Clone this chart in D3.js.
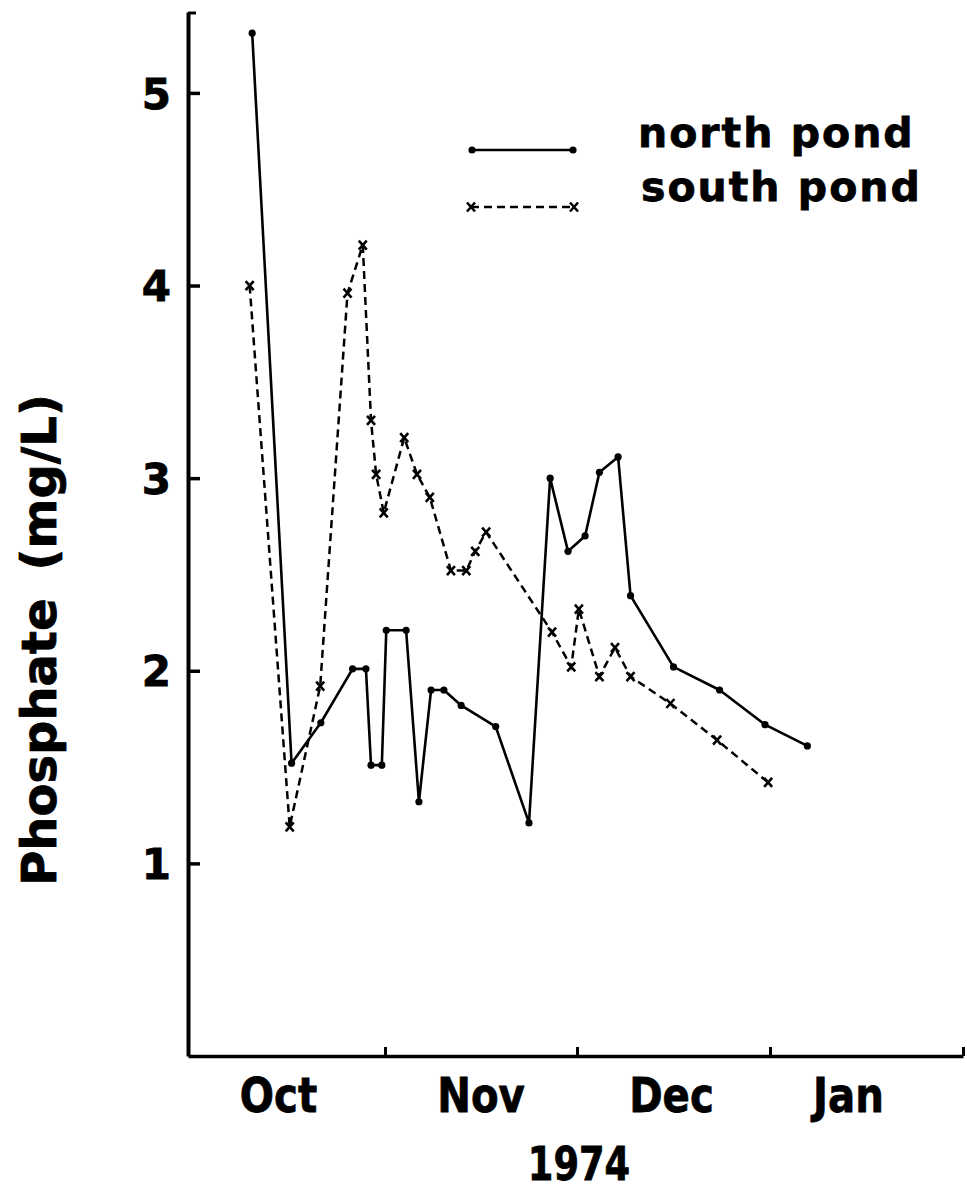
<!DOCTYPE html>
<html>
<head>
<meta charset="utf-8">
<script src="https://cdn.jsdelivr.net/npm/d3@7"></script>
<style>
  html, body { margin: 0; padding: 0; background: #fff; }
  svg { display: block; }
  text { font-family: "DejaVu Sans", "Liberation Sans", sans-serif; font-weight: bold; fill: #000; stroke: #000; stroke-width: 0.8; }
</style>
</head>
<body>
<svg id="chart" width="967" height="1193"></svg>
<script>
// Phosphate in the two ponds, autumn 1974.
// Sampling dates are given as days after 1 October 1974.
const monthNames = ["Oct", "Nov", "Dec", "Jan"];
const monthStartDays = [0, 31, 61, 92, 123];
const yTickValues = [1, 2, 3, 4, 5];
const yearLabel = "1974";
const yAxisTitle = ["Phosphate", "(mg/L)"];
const seriesNames = ["north pond", "south pond"];

const northDay = [10.1, 16.3, 20.9, 25.9, 28.0, 28.8, 30.5, 31.2, 34.3, 36.3, 38.2, 40.2, 42.9,
                  48.3, 53.5, 56.8, 59.6, 62.3, 64.6, 67.6, 69.6, 76.5, 83.9, 91.2, 98.0];
const northPhosphate = [5.31, 1.52, 1.73, 2.01, 2.01, 1.51, 1.51, 2.21, 2.21, 1.32, 1.90, 1.90, 1.82,
                        1.71, 1.21, 3.00, 2.62, 2.70, 3.03, 3.11, 2.39, 2.02, 1.90, 1.72, 1.61];

const southDay = [9.7, 16.0, 20.8, 25.1, 27.5, 28.8, 29.6, 30.8, 34.0, 36.0, 38.0, 41.3, 43.7,
                  45.1, 46.8, 57.1, 60.1, 61.3, 64.6, 67.1, 69.6, 76.0, 83.5, 91.7];
const southPhosphate = [4.00, 1.19, 1.92, 3.96, 4.21, 3.30, 3.02, 2.82, 3.21, 3.02, 2.90, 2.52, 2.52,
                        2.62, 2.72, 2.20, 2.02, 2.32, 1.97, 2.12, 1.97, 1.83, 1.64, 1.42];

const svg = d3.select("#chart");

// Equal-width months along the time axis
const x = d3.scaleLinear()
  .domain(monthStartDays)
  .range([188, 385, 577, 770, 963]);

const y = d3.scaleLinear()
  .domain([0, 5.42])
  .range([1056, 12]);

const north = northDay.map((d, i) => ({ day: d, v: northPhosphate[i] }));
const south = southDay.map((d, i) => ({ day: d, v: southPhosphate[i] }));

// ---- axes ----
const yAxis = d3.axisLeft(y)
  .tickValues(yTickValues)
  .tickFormat(d3.format("d"))
  .tickSizeInner(-12)
  .tickSizeOuter(0)
  .tickPadding(17);

const gy = svg.append("g")
  .attr("transform", `translate(${x(0)},0)`)
  .call(yAxis);
gy.select(".domain").attr("stroke", "#000").attr("stroke-width", 4);
gy.selectAll(".tick line").attr("stroke", "#000").attr("stroke-width", 3.5);
gy.selectAll(".tick text")
  .attr("font-size", 42)
  .attr("font-family", "DejaVu Sans")
  .attr("font-weight", "bold")
  .attr("dy", "0.36em");

// small hook at the top of the value axis
svg.append("line")
  .attr("x1", x(0)).attr("x2", x(0) + 8)
  .attr("y1", y(5.42) + 1).attr("y2", y(5.42) + 1)
  .attr("stroke", "#000").attr("stroke-width", 3);

const xAxis = d3.axisBottom(x)
  .tickValues(monthStartDays.slice(1))
  .tickFormat("")
  .tickSizeInner(-9)
  .tickSizeOuter(0);

const gx = svg.append("g")
  .attr("transform", `translate(0,${y(0)})`)
  .call(xAxis);
gx.select(".domain").attr("stroke", "#000").attr("stroke-width", 3.5);
gx.selectAll(".tick line").attr("stroke", "#000").attr("stroke-width", 3);

// month names between the month boundaries
const monthShift = [-8, 0, -2, -18];
svg.append("g").selectAll("text")
  .data(monthNames)
  .join("text")
  .attr("transform", (m, i) => {
    const cx = (x(monthStartDays[i]) + x(monthStartDays[i + 1])) / 2 + monthShift[i];
    return `translate(${cx},1112) scale(0.84,1)`;
  })
  .attr("text-anchor", "middle")
  .attr("font-size", 48)
  .text(m => m);

svg.append("text")
  .attr("transform", "translate(579,1180) scale(0.8,1)")
  .attr("text-anchor", "middle")
  .attr("font-size", 46)
  .text(yearLabel);

// y axis title
const title = svg.append("text")
  .attr("transform", "translate(56,640) rotate(-90)")
  .attr("text-anchor", "middle")
  .attr("font-size", 48);
title.append("tspan").text(yAxisTitle[0]);
title.append("tspan").attr("dx", 28).text(yAxisTitle[1]);

// ---- series ----
const line = d3.line().x(d => x(d.day)).y(d => y(d.v));

svg.append("path")
  .datum(north)
  .attr("d", line)
  .attr("fill", "none")
  .attr("stroke", "#000")
  .attr("stroke-width", 2.6)
  .attr("stroke-linejoin", "round");

svg.append("g").selectAll("circle")
  .data(north)
  .join("circle")
  .attr("cx", d => x(d.day))
  .attr("cy", d => y(d.v))
  .attr("r", 3.6)
  .attr("fill", "#000");

svg.append("path")
  .datum(south)
  .attr("d", line)
  .attr("fill", "none")
  .attr("stroke", "#000")
  .attr("stroke-width", 2.5)
  .attr("stroke-dasharray", "8,5");

const cross = "M-4,-4.5L4,4.5M4,-4.5L-4,4.5";
svg.append("g").selectAll("path")
  .data(south)
  .join("path")
  .attr("transform", d => `translate(${x(d.day)},${y(d.v)})`)
  .attr("d", cross)
  .attr("stroke", "#000")
  .attr("stroke-width", 2.6)
  .attr("fill", "none");

// ---- legend ----
const legend = svg.append("g");
legend.append("line")
  .attr("x1", 472).attr("x2", 573).attr("y1", 150).attr("y2", 150)
  .attr("stroke", "#000").attr("stroke-width", 2.6);
legend.selectAll("circle")
  .data([472, 573])
  .join("circle")
  .attr("cx", d => d).attr("cy", 150).attr("r", 3.6).attr("fill", "#000");

legend.append("line")
  .attr("x1", 471).attr("x2", 574).attr("y1", 207).attr("y2", 207)
  .attr("stroke", "#000").attr("stroke-width", 2.5)
  .attr("stroke-dasharray", "8,5");
legend.selectAll("path")
  .data([471, 574])
  .join("path")
  .attr("transform", d => `translate(${d},207)`)
  .attr("d", cross)
  .attr("stroke", "#000").attr("stroke-width", 2.6).attr("fill", "none");

legend.selectAll("text")
  .data(seriesNames)
  .join("text")
  .attr("x", (d, i) => i === 0 ? 638 : 641)
  .attr("y", (d, i) => i === 0 ? 147 : 201)
  .attr("font-size", 41)
  .attr("letter-spacing", 2)
  .text(d => d);
</script>
</body>
</html>
